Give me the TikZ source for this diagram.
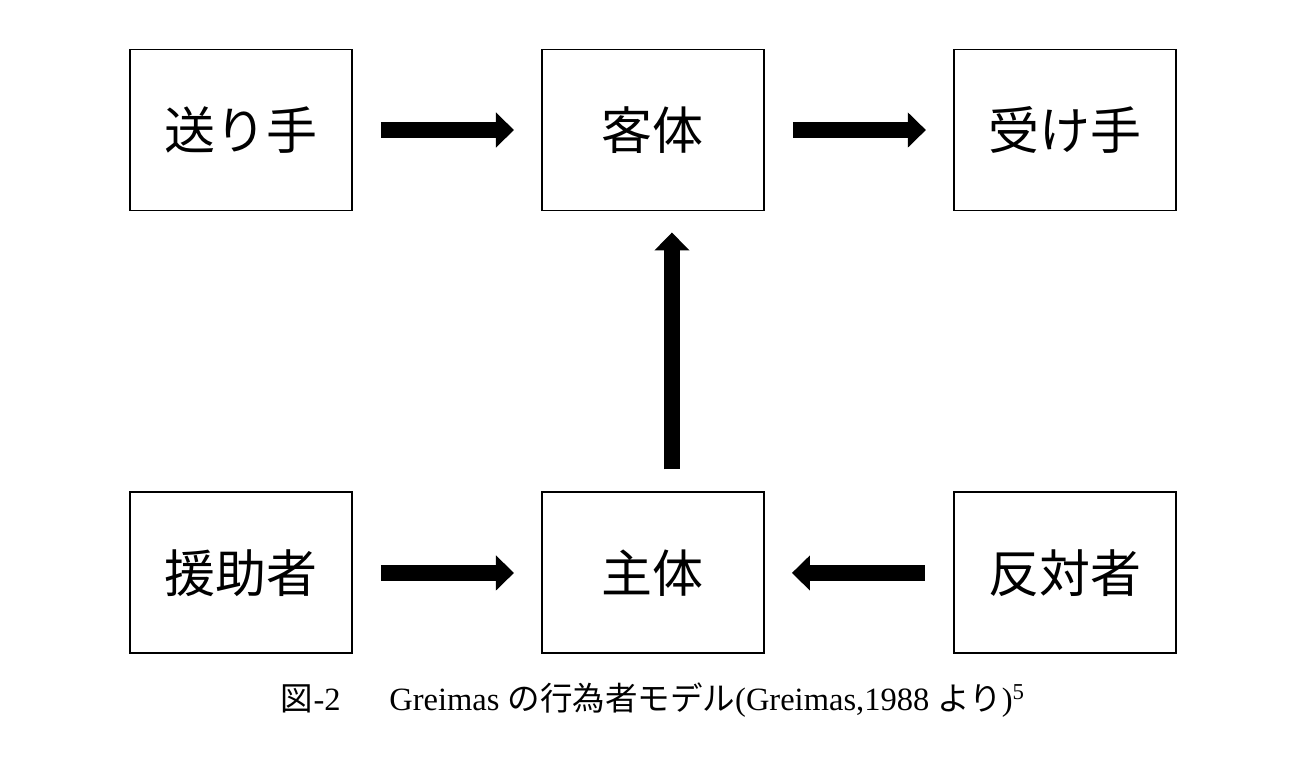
\documentclass[tikz,border=0pt]{standalone}
\usepackage{fontspec}
\setmainfont{Liberation Serif}
\newfontfamily\jp{Noto Sans CJK JP}
\usetikzlibrary{arrows.meta,positioning}

\begin{document}
\begin{tikzpicture}[
    node distance=5.60cm and 3.76cm,
    actor/.style={draw, line width=1.1pt, minimum width=4.44cm,
                  minimum height=3.22cm, inner sep=0pt,
                  font=\jp\fontsize{29}{34}\selectfont},
    blockarrow/.style={-{Triangle[length=0.36cm, width=0.68cm]},
                       line width=0.33cm, shorten <=0.56cm, shorten >=0.54cm},
    caption/.style={font=\fontsize{18.5}{22}\selectfont, inner sep=0pt},
  ]
    \useasboundingbox (0,0) rectangle (26.16,-15.14);

    % top row
    \node[actor] (sender) at (4.82,-2.6) {送り手};
    \node[actor, right=of sender] (object) {客体};
    \node[actor, right=of object] (receiver) {受け手};

    % bottom row
    \node[actor, below=of sender] (helper) {援助者};
    \node[actor, right=of helper] (subject) {主体};
    \node[actor, right=of subject] (opponent) {反対者};

    \draw[blockarrow] (sender) -- (object);
    \draw[blockarrow] (object) -- (receiver);
    \draw[blockarrow] (helper) -- (subject);
    \draw[blockarrow] (opponent) -- (subject);
    \draw[blockarrow, shorten <=0.44cm, shorten >=0.42cm]
          ([xshift=0.38cm]subject.north) -- ([xshift=0.38cm]object.south);

    % caption
    \node[caption] (cap) at ([yshift=-0.92cm]subject.south)
          {{\jp 図}-2\hspace{1.5em}Greimas {\jp の行為者モデル}(Greimas,1988 {\jp より})\textsuperscript{5}};
\end{tikzpicture}
\end{document}
